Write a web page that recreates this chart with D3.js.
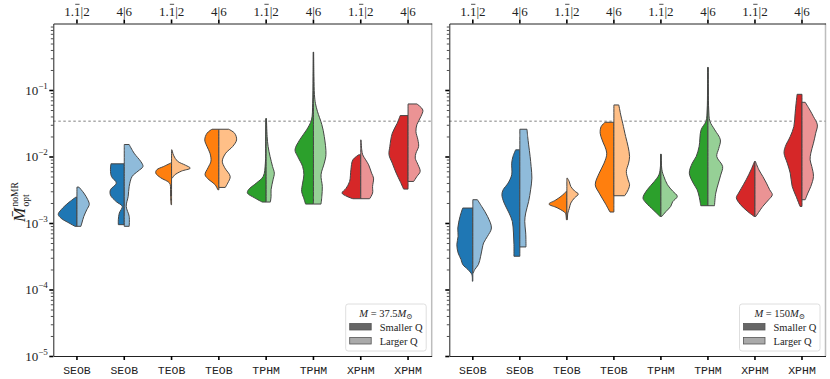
<!DOCTYPE html>
<html>
<head>
<meta charset="utf-8">
<script src="https://cdn.jsdelivr.net/npm/d3@7"></script>
<style>
  body { margin: 0; background: #fff; }
  svg { display: block; }
  .serif { font-family: "Liberation Serif", "DejaVu Serif", serif; }
</style>
</head>
<body>
<div class="chart"></div>
<script>
// categories along the bottom and mass-ratio labels along the top
const categories = ["SEOB", "SEOB", "TEOB", "TEOB", "TPHM", "TPHM", "XPHM", "XPHM"];
const ratioLabels = ["1.1\u0304|2", "4|6", "1.1\u0304|2", "4|6", "1.1\u0304|2", "4|6", "1.1\u0304|2", "4|6"];
const yTickExps = [-5, -4, -3, -2, -1];
const threshold = 0.034;
const darkColors = ["#1f77b4", "#1f77b4", "#ff7f0e", "#ff7f0e", "#2ca02c", "#2ca02c", "#d62728", "#d62728"];

// violin profiles: [log10 mismatch, density] from top to bottom
const lowMassSmallerQ = [
  [[-2.61, 1], [-2.7, 9], [-2.8, 16], [-2.87, 19], [-2.93, 16], [-3.0, 8], [-3.05, 2]],
  [[-2.11, 13.5], [-2.2, 14], [-2.3, 13], [-2.4, 8], [-2.5, 14], [-2.58, 14], [-2.68, 8], [-2.75, 2], [-2.85, 5], [-2.95, 6], [-3.025, 6]],
  [[-2.1, 1], [-2.15, 8], [-2.2, 15], [-2.25, 16], [-2.32, 11], [-2.4, 2], [-2.5, 1], [-2.6, 1], [-2.725, 0.5]],
  [[-1.59, 7], [-1.65, 12], [-1.75, 14.3], [-1.85, 12], [-1.95, 9], [-2.07, 8], [-2.17, 11], [-2.275, 14], [-2.35, 10], [-2.42, 4], [-2.5, 1]],
  [[-1.43, 0.3], [-1.8, 0.5], [-2.1, 0.8], [-2.3, 3], [-2.4, 10], [-2.5, 18], [-2.55, 19], [-2.62, 12], [-2.685, 4]],
  [[-0.43, 0.2], [-0.8, 0.4], [-1.2, 0.8], [-1.45, 2], [-1.6, 7], [-1.75, 14], [-1.9, 18.7], [-2.0, 16], [-2.15, 11], [-2.275, 9.7], [-2.4, 11], [-2.525, 12], [-2.62, 10], [-2.715, 8]],
  [[-1.975, 2], [-2.05, 8], [-2.2, 10], [-2.375, 11.3], [-2.48, 15], [-2.55, 19], [-2.6, 14], [-2.635, 8]],
  [[-1.385, 8], [-1.5, 11], [-1.65, 16], [-1.85, 18.5], [-1.975, 19.3], [-2.1, 16], [-2.25, 12], [-2.375, 8], [-2.49, 4.5]]
];
const lowMassLargerQ = [
  [[-2.46, 2], [-2.55, 7], [-2.65, 11], [-2.72, 12.5], [-2.8, 10], [-2.9, 7], [-3.0, 5], [-3.05, 4]],
  [[-1.82, 5], [-1.95, 10], [-2.08, 17], [-2.15, 19], [-2.22, 14], [-2.3, 8], [-2.45, 5], [-2.6, 4], [-2.75, 2], [-2.9, 5], [-3.05, 5]],
  [[-1.9, 0.5], [-1.98, 2], [-2.07, 6], [-2.13, 14], [-2.175, 19], [-2.22, 10], [-2.28, 3], [-2.32, 1]],
  [[-1.59, 10], [-1.65, 16], [-1.75, 18], [-1.85, 14], [-1.95, 7], [-2.07, 3.5], [-2.17, 6], [-2.3, 11.5], [-2.4, 9], [-2.465, 6.5]],
  [[-1.43, 0.3], [-1.7, 1], [-1.85, 2], [-2.0, 4], [-2.15, 6.5], [-2.25, 8.3], [-2.35, 7], [-2.5, 5], [-2.6, 5], [-2.685, 4.3]],
  [[-0.43, 0.2], [-0.8, 0.5], [-1.07, 1], [-1.2, 2], [-1.32, 4], [-1.52, 8.5], [-1.7, 11], [-1.97, 12.7], [-2.1, 11], [-2.275, 7.7], [-2.45, 9], [-2.6, 8.5], [-2.715, 7.7]],
  [[-1.75, 0.3], [-1.9, 1], [-1.975, 2], [-2.05, 5], [-2.125, 8], [-2.25, 11], [-2.325, 13], [-2.45, 12], [-2.55, 12], [-2.635, 9]],
  [[-1.21, 9], [-1.3, 15], [-1.4, 13], [-1.52, 9], [-1.625, 8], [-1.75, 10], [-1.85, 10.7], [-1.95, 8], [-2.025, 7.3], [-2.12, 10], [-2.225, 12.3], [-2.3, 9], [-2.375, 5.7]]
];
const highMassSmallerQ = [
  [[-2.775, 10.3], [-2.9, 13], [-3.075, 15.3], [-3.2, 15], [-3.325, 16.3], [-3.45, 15], [-3.55, 12], [-3.625, 10.3], [-3.7, 5], [-3.775, 1], [-3.875, 0.5]],
  [[-1.9, 4.3], [-2.0, 7], [-2.1, 8.3], [-2.275, 8.3], [-2.4, 12], [-2.5, 17], [-2.575, 18.3], [-2.7, 16], [-2.85, 11], [-2.975, 7.7], [-3.15, 6.5], [-3.325, 6], [-3.5, 6]],
  [[-2.525, 0.5], [-2.6, 6], [-2.66, 12], [-2.715, 18.3], [-2.77, 10], [-2.82, 4], [-2.85, 1.5], [-2.95, 0.5]],
  [[-1.485, 9], [-1.55, 13], [-1.65, 14], [-1.75, 12], [-1.95, 7.3], [-2.1, 10], [-2.25, 15], [-2.425, 19], [-2.55, 15], [-2.7, 9], [-2.835, 4]],
  [[-1.965, 0.3], [-2.15, 0.5], [-2.275, 2], [-2.38, 7], [-2.5, 14], [-2.625, 18.3], [-2.7, 15], [-2.8, 8], [-2.9, 1]],
  [[-0.66, 0.2], [-1.0, 0.4], [-1.3, 0.8], [-1.47, 2], [-1.6, 7], [-1.85, 9], [-2.0, 12], [-2.1, 16], [-2.25, 19], [-2.4, 15], [-2.5, 11], [-2.6, 9], [-2.74, 7.3]],
  [[-2.075, 0.5], [-2.2, 4], [-2.35, 9], [-2.48, 14], [-2.55, 16.7], [-2.62, 19], [-2.72, 15], [-2.82, 8], [-2.9, 1]],
  [[-1.065, 5], [-1.2, 6], [-1.35, 7], [-1.55, 8.3], [-1.7, 12], [-1.85, 17], [-1.95, 18.3], [-2.1, 15], [-2.25, 12], [-2.45, 10], [-2.6, 6], [-2.75, 2]]
];
const highMassLargerQ = [
  [[-2.65, 4.7], [-2.75, 9], [-2.9, 15], [-3.075, 19], [-3.2, 15], [-3.3, 11], [-3.375, 9.7], [-3.5, 8], [-3.625, 5.7], [-3.7, 2], [-3.75, 0.5]],
  [[-1.59, 7.3], [-1.7, 8], [-1.825, 9], [-2.0, 10.5], [-2.15, 11.5], [-2.325, 12.3], [-2.5, 11], [-2.675, 9], [-2.85, 6], [-2.975, 5], [-3.15, 6], [-3.36, 6.3]],
  [[-2.325, 0.5], [-2.38, 2.5], [-2.45, 4], [-2.52, 8], [-2.565, 11.7], [-2.62, 8], [-2.7, 4], [-2.78, 2.5], [-2.85, 1], [-2.95, 0.5]],
  [[-1.225, 5], [-1.3, 6], [-1.375, 7], [-1.5, 9], [-1.7, 12], [-1.85, 14.5], [-2.0, 16], [-2.1, 15], [-2.225, 12.7], [-2.35, 14.5], [-2.425, 16], [-2.52, 14], [-2.59, 11]],
  [[-1.965, 0.3], [-2.2, 1], [-2.3, 3], [-2.425, 6.7], [-2.52, 12], [-2.6, 16.7], [-2.68, 12], [-2.75, 10], [-2.83, 5], [-2.9, 1]],
  [[-0.66, 0.2], [-1.0, 0.4], [-1.3, 0.8], [-1.47, 2], [-1.6, 7], [-1.75, 12.7], [-1.88, 11], [-2.0, 9], [-2.15, 15], [-2.28, 13], [-2.4, 10.7], [-2.55, 8], [-2.74, 6.7]],
  [[-2.075, 0.5], [-2.2, 4], [-2.3, 8], [-2.4, 11.7], [-2.5, 15], [-2.575, 17.7], [-2.65, 14], [-2.75, 8], [-2.9, 1]],
  [[-1.185, 3.3], [-1.3, 8], [-1.4, 11.7], [-1.525, 15.7], [-1.65, 14], [-1.8, 11.7], [-1.95, 9], [-2.05, 8.3], [-2.15, 10], [-2.3, 11.7], [-2.45, 9], [-2.55, 6], [-2.65, 3.3]]
];

const width = 830, height = 379;
const plotTop = 23.5, plotBottom = 356;

const svg = d3.select(".chart").append("svg")
  .attr("width", width)
  .attr("height", height);

const y = d3.scaleLog().domain([1e-5, 1]).range([plotBottom, plotTop]);

const panels = [
  { left: 53.3, right: 431.7, smaller: lowMassSmallerQ, larger: lowMassLargerQ, mass: "37.5", labels: true },
  { left: 449.3, right: 825.5, smaller: highMassSmallerQ, larger: highMassLargerQ, mass: "150", labels: false }
];

const lighten = (c) => d3.interpolateRgb(c, "#fff")(0.5);

panels.forEach((p) => {
  const x = d3.scaleBand().domain(d3.range(categories.length)).range([p.left, p.right]).padding(0);
  const half = x.bandwidth() / 2;
  const w = d3.scaleLinear().domain([0, 24]).range([0, half]);
  const g = svg.append("g");

  // right spine (light)
  g.append("line")
    .attr("x1", p.right).attr("x2", p.right)
    .attr("y1", plotTop).attr("y2", plotBottom)
    .attr("stroke", "#bdbdbd").attr("stroke-width", 1.5);

  // threshold line
  g.append("line")
    .attr("x1", p.left).attr("x2", p.right)
    .attr("y1", y(threshold)).attr("y2", y(threshold))
    .attr("stroke", "#808080").attr("stroke-width", 1)
    .attr("stroke-dasharray", "2.5,2.5");

  // violins
  const drawHalf = (profile, i, side, fill) => {
    const cx = x(i) + half;
    const area = d3.area()
      .curve(d3.curveCatmullRom.alpha(0.5))
      .y((d) => y(Math.pow(10, d[0])))
      .x0(cx)
      .x1((d) => cx + side * w(d[1]));
    g.append("path")
      .attr("d", area(profile))
      .attr("fill", fill)
      .attr("stroke", "#454545")
      .attr("stroke-width", 1)
      .attr("stroke-linejoin", "round");
  };
  categories.forEach((c, i) => {
    drawHalf(p.smaller[i], i, -1, darkColors[i]);
    drawHalf(p.larger[i], i, 1, lighten(darkColors[i]));
  });

  // y axis: major and minor ticks
  const minor = [];
  for (let e = -5; e < 0; e++) for (let k = 2; k <= 9; k++) minor.push(k * Math.pow(10, e));
  g.append("g")
    .attr("transform", `translate(${p.left},0)`)
    .call(d3.axisLeft(y).tickValues(minor).tickSize(2.5).tickFormat(""))
    .call((a) => a.select(".domain").remove())
    .call((a) => a.selectAll("line").attr("stroke", "#222").attr("stroke-width", 0.8));
  g.append("g")
    .attr("transform", `translate(${p.left},0)`)
    .call(d3.axisLeft(y).tickValues(yTickExps.map((e) => Math.pow(10, e))).tickSize(4).tickSizeOuter(0).tickFormat(""))
    .call((a) => a.select(".domain").attr("stroke", "#222"))
    .call((a) => a.selectAll(".tick line").attr("stroke", "#000").attr("stroke-width", 1.6));

  if (p.labels) {
    yTickExps.forEach((e) => {
      const t = g.append("text")
        .attr("class", "serif")
        .attr("x", p.left - 5.5)
        .attr("y", y(Math.pow(10, e)) + 4.5)
        .attr("text-anchor", "end")
        .attr("font-size", 13)
        .attr("fill", "#222");
      t.append("tspan").text("10");
      t.append("tspan").attr("font-size", 9).attr("dy", -6).text("\u2212" + Math.abs(e));
    });
  }

  // bottom axis
  g.append("g")
    .attr("transform", `translate(0,${plotBottom})`)
    .call(d3.axisBottom(x).tickSize(4).tickSizeOuter(0).tickFormat((d) => categories[d]))
    .call((a) => a.select(".domain").attr("stroke", "#222"))
    .call((a) => a.selectAll(".tick line").attr("stroke", "#000").attr("stroke-width", 1.6))
    .call((a) => a.selectAll("text")
      .attr("font-family", "'Liberation Mono', monospace")
      .attr("font-size", 11.5)
      .attr("fill", "#222")
      .attr("dy", "0.95em"));

  // top axis; the repeating digit gets a short bar drawn over it
  g.append("g")
    .attr("transform", `translate(0,${plotTop})`)
    .call(d3.axisTop(x).tickSize(4).tickSizeOuter(0).tickFormat((d) => ratioLabels[d].replace("\u0304", "")))
    .call((a) => a.select(".domain").attr("stroke", "#222"))
    .call((a) => a.selectAll(".tick line").attr("stroke", "#000").attr("stroke-width", 1.6))
    .call((a) => a.selectAll("text")
      .attr("font-family", "'Liberation Serif', serif")
      .attr("font-size", 13)
      .attr("fill", "#222")
      .attr("y", -8)
      .each(function (d) {
        const bar = ratioLabels[d].indexOf("\u0304");
        if (bar < 0) return;
        const r = this.getExtentOfChar(bar - 1);
        d3.select(this.parentNode).append("line")
          .attr("x1", r.x + 1.2).attr("x2", r.x + r.width - 1)
          .attr("y1", -19.2).attr("y2", -19.2)
          .attr("stroke", "#222").attr("stroke-width", 0.8);
      }));

  // legend
  const lw = 80.5, lh = 47;
  const lx = p.right - 5.5 - lw, ly = 304;
  const leg = g.append("g").attr("transform", `translate(${lx},${ly})`);
  leg.append("rect")
    .attr("width", lw).attr("height", lh).attr("rx", 2.5)
    .attr("fill", "#fff").attr("fill-opacity", 0.85)
    .attr("stroke", "#d6d6d6").attr("stroke-width", 0.8);
  const title = leg.append("text")
    .attr("class", "serif")
    .attr("x", lw / 2).attr("y", 12.5)
    .attr("text-anchor", "middle")
    .attr("font-size", 10.5)
    .attr("fill", "#222");
  title.append("tspan").attr("font-style", "italic").text("M");
  title.append("tspan").text(" = " + p.mass);
  title.append("tspan").attr("font-style", "italic").text("M");
  title.append("tspan").attr("font-size", 7.5).attr("dy", 2).text("\u2299");
  [["Smaller Q", "#666666"], ["Larger Q", "#aaaaaa"]].forEach(([label, col], j) => {
    leg.append("rect")
      .attr("x", 4).attr("y", 19.5 + j * 14)
      .attr("width", 21.5).attr("height", 6.5)
      .attr("fill", col).attr("stroke", "#555").attr("stroke-width", 0.8);
    leg.append("text")
      .attr("class", "serif")
      .attr("x", 34).attr("y", 26.5 + j * 14)
      .attr("font-size", 10.5)
      .attr("fill", "#222")
      .text(label);
  });
});

// y label
const yl = svg.append("g").attr("transform", "translate(25,222) rotate(-90)");
yl.append("text").attr("class", "serif")
  .attr("font-size", 17).attr("font-style", "italic").attr("fill", "#222")
  .text("M\u0304");
yl.append("text").attr("class", "serif")
  .attr("x", 15.5).attr("y", -7)
  .attr("font-size", 9.5).attr("fill", "#222")
  .text("noMR");
yl.append("text").attr("class", "serif")
  .attr("x", 15.5).attr("y", 4)
  .attr("font-size", 9.5).attr("fill", "#222")
  .text("opt");
</script>
</body>
</html>
